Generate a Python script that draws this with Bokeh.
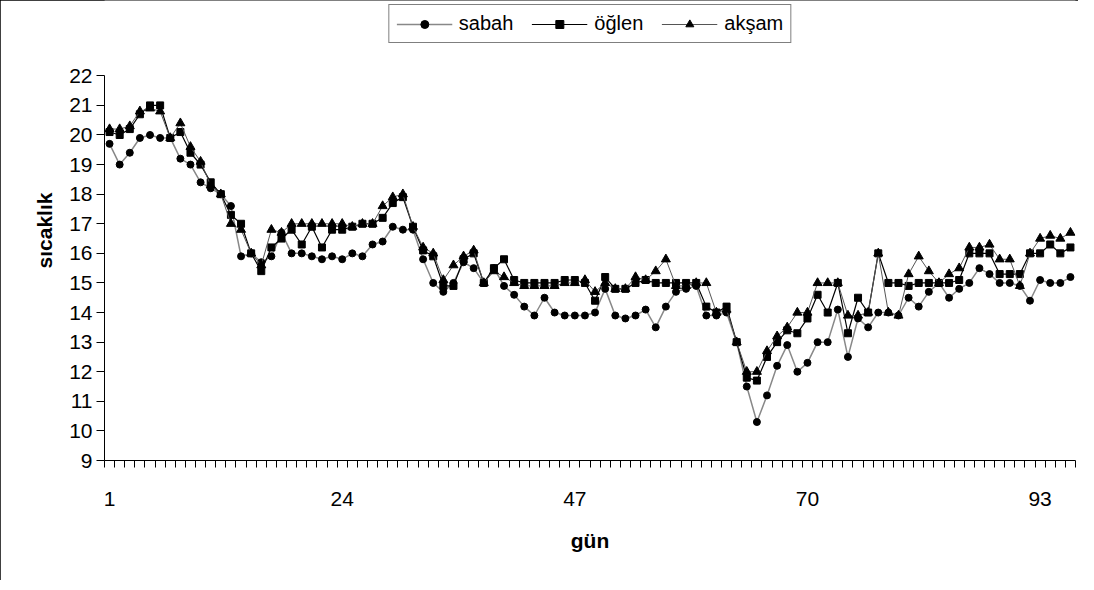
from bokeh.plotting import figure
from bokeh.models import FixedTicker, Legend, LegendItem, Range1d, ColumnDataSource
from bokeh.embed import file_html
from bokeh.resources import INLINE

# ---- data ----
days = list(range(1, 97))
x_tick_labels = ["1", "24", "47", "70", "93"]
y_ticks = [9, 10, 11, 12, 13, 14, 15, 16, 17, 18, 19, 20, 21, 22]

sabah = [19.7, 19.0, 19.4, 19.9, 20.0, 19.9, 19.9, 19.2, 19.0, 18.4,
         18.2, 18.0, 17.6, 15.9, 16.0, 15.7, 15.9, 16.7, 16.0, 16.0,
         15.9, 15.8, 15.9, 15.8, 16.0, 15.9, 16.3, 16.4, 16.9, 16.8,
         16.8, 15.8, 15.0, 14.7, 15.0, 15.7, 15.5, 15.0, 15.5, 14.9,
         14.6, 14.2, 13.9, 14.5, 14.0, 13.9, 13.9, 13.9, 14.0, 14.8,
         13.9, 13.8, 13.9, 14.1, 13.5, 14.2, 14.7, 14.8, 14.9, 13.9,
         13.9, 14.0, 13.0, 11.5, 10.3, 11.2, 12.2, 12.9, 12.0, 12.3,
         13.0, 13.0, 14.1, 12.5, 13.8, 13.5, 14.0, 14.0, 13.9, 14.5,
         14.2, 14.7, 15.0, 14.5, 14.8, 15.0, 15.5, 15.3, 15.0, 15.0,
         14.9, 14.4, 15.1, 15.0, 15.0, 15.2]

oglen = [20.1, 20.0, 20.2, 20.7, 21.0, 21.0, 19.9, 20.1, 19.4, 19.0,
         18.4, 18.0, 17.3, 17.0, 16.0, 15.4, 16.2, 16.5, 16.8, 16.3,
         16.9, 16.2, 16.8, 16.8, 16.9, 17.0, 17.0, 17.2, 17.7, 17.9,
         16.9, 16.1, 15.9, 14.9, 14.9, 15.8, 16.0, 15.0, 15.5, 15.8,
         15.1, 15.0, 15.0, 15.0, 15.0, 15.1, 15.1, 15.0, 14.4, 15.2,
         14.8, 14.8, 15.0, 15.1, 15.0, 15.0, 15.0, 15.0, 15.0, 14.2,
         14.0, 14.2, 13.0, 11.8, 11.7, 12.5, 13.0, 13.4, 13.3, 13.8,
         14.6, 14.0, 15.0, 13.3, 14.5, 14.0, 16.0, 15.0, 15.0, 14.9,
         15.0, 15.0, 15.0, 15.0, 15.1, 16.0, 16.0, 16.0, 15.3, 15.3,
         15.3, 16.0, 16.0, 16.3, 16.0, 16.2]

aksam = [20.2, 20.2, 20.3, 20.8, 20.9, 20.8, 19.9, 20.4, 19.6, 19.1,
         18.3, 18.0, 17.0, 16.8, 16.0, 15.6, 16.8, 16.7, 17.0, 17.0,
         17.0, 17.0, 17.0, 17.0, 16.9, 17.0, 17.0, 17.6, 17.9, 18.0,
         16.9, 16.2, 16.0, 15.1, 15.6, 15.9, 16.1, 15.0, 15.4, 15.2,
         15.0, 14.9, 14.9, 14.9, 14.9, 15.0, 15.0, 15.1, 14.7, 15.0,
         14.8, 14.8, 15.2, 15.1, 15.4, 15.8, 14.9, 14.9, 15.0, 15.0,
         14.0, 14.1, 13.0, 12.0, 12.0, 12.7, 13.2, 13.5, 14.0, 14.0,
         15.0, 15.0, 15.0, 13.9, 13.9, 14.0, 16.0, 14.0, 13.9, 15.3,
         15.9, 15.4, 15.0, 15.3, 15.5, 16.2, 16.2, 16.3, 15.8, 15.8,
         14.9, 16.0, 16.5, 16.6, 16.5, 16.7]

FONT = "Liberation Sans"

source = ColumnDataSource(dict(gun=days, sabah=sabah, oglen=oglen, aksam=aksam))

# frame extends to the top of the canvas so that the legend (drawn inside the
# frame) sits above the 9..22 value area; the y axis line is bounded to 9..22
y_lo, y_hi = min(y_ticks), max(y_ticks)
y_top = y_hi + 2.545

p = figure(width=1078, height=580, output_backend="svg", toolbar_location=None,
           x_range=Range1d(0.5, len(days) + 0.5), y_range=Range1d(y_lo, y_top),
           min_border_left=104, min_border_right=3, min_border_top=0, min_border_bottom=120)
p.styles = {"outline": "1px solid black", "outline-offset": "-1px"}
p.outline_line_color = None
p.background_fill_color = "white"
p.border_fill_color = "white"
p.xgrid.visible = False
p.ygrid.visible = False

# y axis
ya = p.yaxis[0]
ya.ticker = FixedTicker(ticks=y_ticks)
ya.bounds = (y_lo, y_hi)
ya.axis_line_color = "black"
ya.major_tick_line_color = "black"
ya.major_tick_out = 8
ya.major_tick_in = 0
ya.minor_tick_line_color = None
ya.major_label_text_font = FONT
ya.major_label_text_font_size = "21px"
ya.major_label_text_color = "black"
ya.major_label_standoff = 4
ya.axis_label = "sıcaklık"
ya.axis_label_text_font = FONT
ya.axis_label_text_font_size = "21px"
ya.axis_label_text_font_style = "bold"
ya.axis_label_text_color = "black"
ya.axis_label_standoff = 10

# x axis (category style: ticks between days, labels every 23 days)
xa = p.xaxis[0]
x_ticks = [int(t) for t in x_tick_labels]
xa.ticker = FixedTicker(ticks=x_ticks, minor_ticks=[d - 0.5 for d in days] + [days[-1] + 0.5])
xa.major_label_overrides = {t: lab for t, lab in zip(x_ticks, x_tick_labels)}
xa.axis_line_color = "black"
xa.major_tick_line_color = None
xa.major_tick_out = 0
xa.major_tick_in = 0
xa.minor_tick_line_color = "black"
xa.minor_tick_out = 7
xa.minor_tick_in = 0
xa.major_label_text_font = FONT
xa.major_label_text_font_size = "21px"
xa.major_label_text_color = "black"
xa.major_label_standoff = 24
xa.axis_label = "gün"
xa.axis_label_text_font = FONT
xa.axis_label_text_font_size = "21px"
xa.axis_label_text_font_style = "bold"
xa.axis_label_text_color = "black"
xa.axis_label_standoff = 20

# series
l1 = p.line("gun", "sabah", source=source, line_color="#888888", line_width=1.5)
m1 = p.scatter("gun", "sabah", source=source, marker="circle", size=7,
               fill_color="black", line_color="black")
l2 = p.line("gun", "oglen", source=source, line_color="black", line_width=1.2)
m2 = p.scatter("gun", "oglen", source=source, marker="square", size=7,
               fill_color="black", line_color="black")
l3 = p.line("gun", "aksam", source=source, line_color="#555555", line_width=1)
m3 = p.scatter("gun", "aksam", source=source, marker="triangle", size=9,
               fill_color="black", line_color="black")

legend = Legend(items=[LegendItem(label="sabah", renderers=[l1, m1]),
                       LegendItem(label="öğlen", renderers=[l2, m2]),
                       LegendItem(label="akşam", renderers=[l3, m3])],
                orientation="horizontal", location="top_center")
legend.label_text_font = FONT
legend.label_text_font_size = "20px"
legend.label_text_color = "black"
legend.glyph_width = 56
legend.glyph_height = 20
legend.label_height = 20
legend.label_standoff = 7
legend.spacing = 18
legend.padding = 7
legend.margin = 4
legend.border_line_color = "black"
legend.border_line_width = 1
legend.background_fill_color = "white"
legend.background_fill_alpha = 1
p.add_layout(legend, "center")

open("out.html", "w").write(file_html(p, INLINE))
